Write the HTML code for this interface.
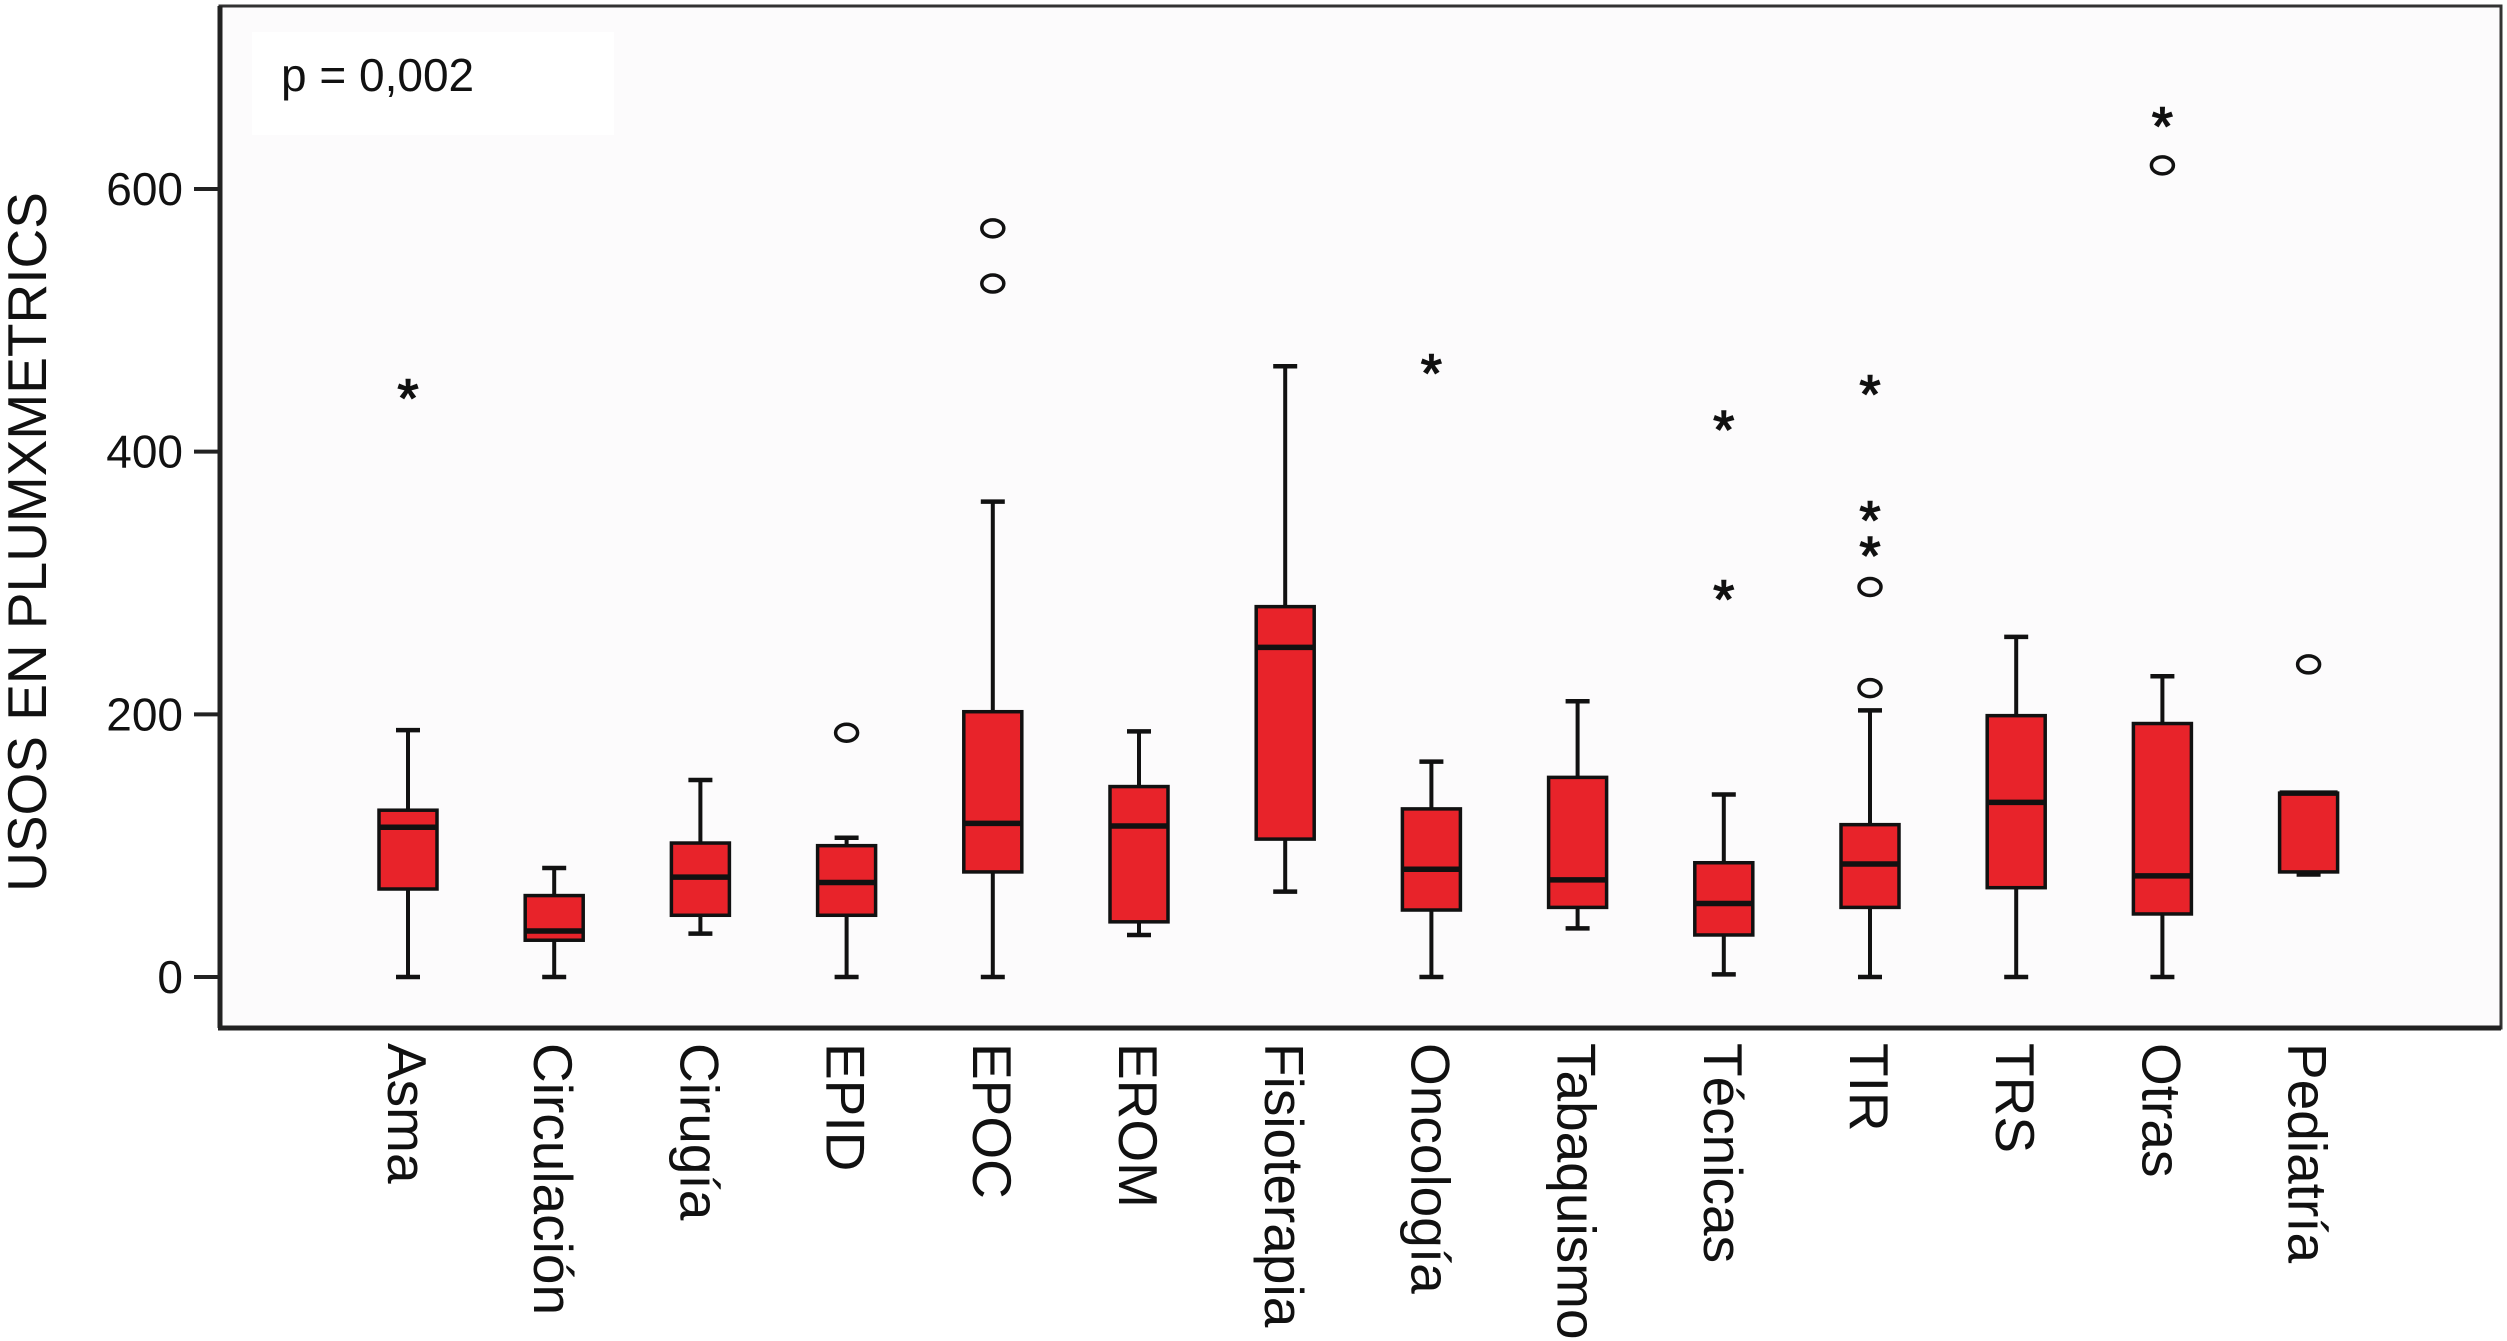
<!DOCTYPE html>
<html><head><meta charset="utf-8"><style>
html,body{margin:0;padding:0;background:#fff;}
svg{display:block;font-family:"Liberation Sans",Arial,sans-serif;}
</style></head><body>
<svg id="chart" width="2507" height="1341" viewBox="0 0 2507 1341">
<rect x="220" y="6" width="2281" height="1022" fill="#fcfbfc" stroke="#333" stroke-width="3"/>
<line x1="220" y1="6" x2="220" y2="1028" stroke="#222" stroke-width="5"/>
<line x1="218" y1="1028" x2="2501" y2="1028" stroke="#222" stroke-width="5"/>
<rect x="252" y="32" width="362" height="103" fill="#ffffff"/>
<text x="281" y="91" font-size="46" fill="#111">p = 0,002</text>
<text transform="translate(46,542) rotate(-90)" text-anchor="middle" font-size="55" fill="#111">USOS EN PLUMXMETRICS</text>
<g id="marks"></g>
</svg>
<script>
const categories = ["Asma","Circulación","Cirugía","EPID","EPOC","EROM","Fisioterapia","Oncología","Tabaquismo","Técnicas","TIR","TRS","Otras","Pediatría"];
const whiskerLow = [0,0,33,0,0,32,65,0,37,2,0,0,0,78];
const q1 = [67,28,47,47,80,42,105,51,53,32,53,68,48,80];
const medians = [114,35,76,72,117,115,251,82,74,56,86,133,77,140];
const q3 = [127,62,102,100,202,145,282,128,152,87,116,199,193,140];
const whiskerHigh = [188,83,150,106,362,187,465,164,210,139,203,259,229,140];
const circleOutliers = [[],[],[],[186],[528,570],[],[],[],[],[],[220,297],[],[618],[238]];
const starOutliers = [[445],[],[],[],[],[],[],[464],[],[292,421],[325,352,448],[],[652],[]];
const yTicks = [0,200,400,600];

const NS = "http://www.w3.org/2000/svg";
const g = document.getElementById("marks");
function y(v){ return 977 - v*(788/600); }
function x(i){ return 408 + i*146.2; }
function mk(tag, attrs, parent){
  const e = document.createElementNS(NS, tag);
  for (const k in attrs) e.setAttribute(k, attrs[k]);
  (parent||g).appendChild(e);
  return e;
}
yTicks.forEach(t=>{
  const l = mk("line",{x1:194,x2:220,y1:y(t),y2:y(t),stroke:"#222","stroke-width":4});
  
  
  const tx = mk("text",{x:183,y:y(t)+16,"text-anchor":"end","font-size":46,fill:"#111"});
  tx.textContent = t;
  
  
});
categories.forEach((c,i)=>{
  const cx = x(i), hw = 29, cw = 12;
  const wg = mk("g",{});
  
  
  mk("line",{x1:cx,x2:cx,y1:y(whiskerLow[i]),y2:y(q1[i]),stroke:"#111","stroke-width":4},wg);
  mk("line",{x1:cx,x2:cx,y1:y(q3[i]),y2:y(whiskerHigh[i]),stroke:"#111","stroke-width":4},wg);
  mk("line",{x1:cx-cw,x2:cx+cw,y1:y(whiskerLow[i]),y2:y(whiskerLow[i]),stroke:"#111","stroke-width":4.5},wg);
  mk("line",{x1:cx-cw,x2:cx+cw,y1:y(whiskerHigh[i]),y2:y(whiskerHigh[i]),stroke:"#111","stroke-width":4.5},wg);
  mk("rect",{x:cx-hw,y:y(q3[i]),width:hw*2,height:Math.max(2,y(q1[i])-y(q3[i])),fill:"#e8232a",stroke:"#111","stroke-width":3.5},wg);
  mk("line",{x1:cx-hw,x2:cx+hw,y1:y(medians[i]),y2:y(medians[i]),stroke:"#111","stroke-width":5.5},wg);
  circleOutliers[i].forEach(v=>{
    const o = mk("ellipse",{cx:cx,cy:y(v),rx:11,ry:8.5,fill:"none",stroke:"#111","stroke-width":3.5});
    
    
  });
  starOutliers[i].forEach(v=>{
    const s = mk("text",{x:cx,y:y(v)+24,"text-anchor":"middle","font-size":54,fill:"#111",stroke:"#111","stroke-width":1.5});
    s.textContent = "*";
    
    
  });
  const lb = mk("text",{transform:`translate(${cx-20},1043) rotate(90)`,"font-size":55,fill:"#111"});
  lb.textContent = c;
  
  
});
</script>
</body></html>
